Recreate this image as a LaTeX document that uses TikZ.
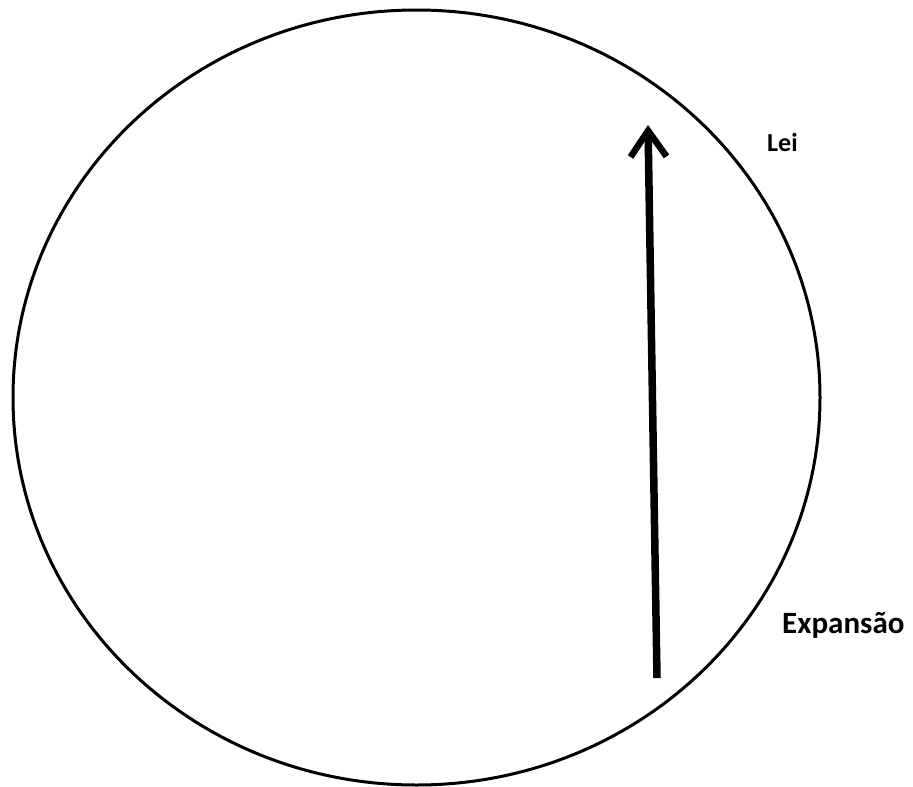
\documentclass[tikz,border=0pt]{standalone}
\usepackage{fontspec}
\setmainfont{Carlito}
\usetikzlibrary{arrows.meta}
\begin{document}
\begin{tikzpicture}[x=1pt,y=-1pt,
  lbl/.style={font=\bfseries, inner sep=0pt, anchor=west}]
\useasboundingbox[fill=white] (0,0) rectangle (913,787);
\draw[line width=3pt] (416.5,397.5) ellipse [x radius=403.5, y radius=387.5];
\coordinate (s) at (657,678);
\coordinate (t) at (648,125);
\draw[line width=7.5pt, -{Straight Barb[length=26pt, width=36pt, line width=6.5pt]}] (s) -- (t);
\node[lbl, font=\bfseries\fontsize{26}{30}\selectfont] (lei) at (767,142) {Lei};
\node[lbl, font=\bfseries\fontsize{31}{36}\selectfont] (exp) at (782,625) {Expansão};
\end{tikzpicture}
\end{document}
